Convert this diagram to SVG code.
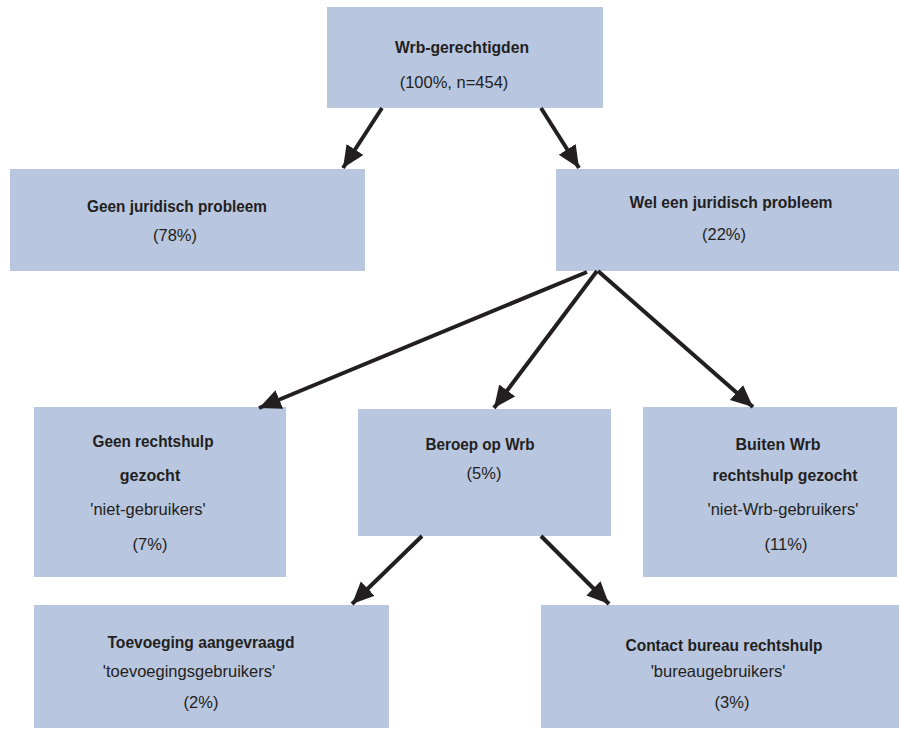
<svg xmlns="http://www.w3.org/2000/svg" width="899" height="729" viewBox="0 0 899 729">
<style>
.box{fill:#b8c6df}
.b{font-family:"Liberation Sans",Arial,sans-serif;font-weight:bold;font-size:16px;fill:#231f20;text-anchor:middle}
.r{font-family:"Liberation Sans",Arial,sans-serif;font-size:16.5px;fill:#231f20;text-anchor:middle}
.c{stroke:#231f20;stroke-width:4;fill:none;marker-end:url(#ah)}
</style>
<defs>
<marker id="ah" markerUnits="userSpaceOnUse" markerWidth="24" markerHeight="22" refX="22" refY="11" orient="auto" viewBox="0 0 24 22">
<path d="M0,1 L22,11 L0,21 z" fill="#231f20"/>
</marker>
</defs>
<rect width="899" height="729" fill="#fff"/>
<g id="n1"><rect class="box" x="327" y="7" width="276" height="101"/><text class="b" x="462" y="53" textLength="134" lengthAdjust="spacingAndGlyphs">Wrb-gerechtigden</text><text class="r" x="454" y="88">(100%, n=454)</text></g>
<g id="n2"><rect class="box" x="10" y="169" width="355" height="102"/><text class="b" x="177" y="212" textLength="180" lengthAdjust="spacingAndGlyphs">Geen juridisch probleem</text><text class="r" x="175" y="241">(78%)</text></g>
<g id="n3"><rect class="box" x="556" y="169" width="343" height="102"/><text class="b" x="731" y="208" textLength="203" lengthAdjust="spacingAndGlyphs">Wel een juridisch probleem</text><text class="r" x="724" y="240">(22%)</text></g>
<g id="n4"><rect class="box" x="34" y="407" width="252" height="170"/><text class="b" x="153" y="447" textLength="121" lengthAdjust="spacingAndGlyphs">Geen rechtshulp</text><text class="b" x="150" y="481">gezocht</text><text class="r" x="148" y="515">'niet-gebruikers'</text><text class="r" x="150" y="550">(7%)</text></g>
<g id="n5"><rect class="box" x="358" y="409" width="253" height="127"/><text class="b" x="480" y="450" textLength="109" lengthAdjust="spacingAndGlyphs">Beroep op Wrb</text><text class="r" x="484" y="479">(5%)</text></g>
<g id="n6"><rect class="box" x="643" y="407" width="254" height="170"/><text class="b" x="778" y="450">Buiten Wrb</text><text class="b" x="785" y="481" textLength="145" lengthAdjust="spacingAndGlyphs">rechtshulp gezocht</text><text class="r" x="783" y="515">'niet-Wrb-gebruikers'</text><text class="r" x="786" y="550">(11%)</text></g>
<g id="n7"><rect class="box" x="34" y="605" width="355" height="123"/><text class="b" x="201" y="648" textLength="187" lengthAdjust="spacingAndGlyphs">Toevoeging aangevraagd</text><text class="r" x="189" y="677">'toevoegingsgebruikers'</text><text class="r" x="201" y="708">(2%)</text></g>
<g id="n8"><rect class="box" x="541" y="605" width="358" height="123"/><text class="b" x="724" y="651" textLength="197" lengthAdjust="spacingAndGlyphs">Contact bureau rechtshulp</text><text class="r" x="718" y="677">'bureaugebruikers'</text><text class="r" x="732" y="708">(3%)</text></g>
<g id="connectors">
<line class="c" x1="382" y1="108" x2="343" y2="168"/>
<line class="c" x1="541" y1="108" x2="579" y2="168"/>
<line class="c" x1="587" y1="272" x2="259" y2="408"/>
<line class="c" x1="597" y1="271" x2="494" y2="408"/>
<line class="c" x1="598" y1="271" x2="753" y2="407"/>
<line class="c" x1="422" y1="536" x2="352" y2="604"/>
<line class="c" x1="541" y1="536" x2="609" y2="604"/>
</g>
</svg>
